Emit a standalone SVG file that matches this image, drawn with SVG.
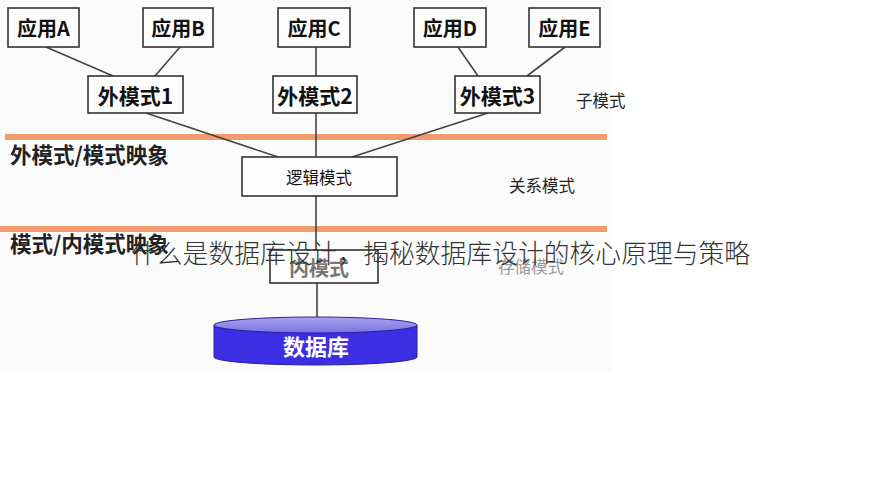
<svg xmlns="http://www.w3.org/2000/svg" width="879" height="490" viewBox="0 0 879 490">
<defs>
<style>
.box{fill:#fdfdfd;stroke:#333;stroke-width:1.6}
.bt{font-family:"Noto Sans CJK SC","Liberation Sans",sans-serif;font-weight:bold;fill:#111;text-anchor:middle;dominant-baseline:central}
.ln{stroke:#444;stroke-width:1.6;fill:none}
.band{stroke:#f29b6c;stroke-width:6}
.lbl{font-family:"Noto Sans CJK SC","Liberation Sans",sans-serif;fill:#222}
</style>
<linearGradient id="dbtop" x1="0" y1="0" x2="0" y2="1">
<stop offset="0" stop-color="#a8a4ee"/>
<stop offset="1" stop-color="#7a72e6"/>
</linearGradient>
</defs>
<rect x="0" y="0" width="879" height="490" fill="#ffffff"/>
<rect x="0" y="0" width="612" height="372" fill="#fbfbfb"/>

<g id="bands">
<line class="band" x1="5" y1="137" x2="607" y2="137"/>
<line class="band" x1="0" y1="229" x2="607" y2="229"/>
</g>

<g id="connectors">
<line class="ln" x1="46" y1="47" x2="113" y2="76"/>
<line class="ln" x1="180" y1="47" x2="155" y2="76"/>
<line class="ln" x1="316" y1="47" x2="316" y2="76"/>
<line class="ln" x1="458" y1="47" x2="478" y2="76"/>
<line class="ln" x1="565" y1="47" x2="527" y2="76"/>
<line class="ln" x1="146" y1="113" x2="278" y2="157"/>
<line class="ln" x1="316" y1="113" x2="316" y2="157"/>
<line class="ln" x1="488" y1="113" x2="352" y2="157"/>
<line class="ln" x1="316" y1="196" x2="316" y2="250"/>
<line class="ln" x1="317" y1="283" x2="317" y2="320"/>
</g>

<g id="appA"><rect class="box" x="8" y="8" width="71" height="39"/><text class="bt" x="43.5" y="27.5" font-size="20">应用A</text></g>
<g id="appB"><rect class="box" x="143" y="8" width="70" height="39"/><text class="bt" x="178" y="27.5" font-size="20">应用B</text></g>
<g id="appC"><rect class="box" x="278" y="8" width="72" height="39"/><text class="bt" x="314" y="27.5" font-size="20">应用C</text></g>
<g id="appD"><rect class="box" x="414" y="8" width="72" height="39"/><text class="bt" x="450" y="27.5" font-size="20">应用D</text></g>
<g id="appE"><rect class="box" x="529" y="8" width="71" height="39"/><text class="bt" x="564.5" y="27.5" font-size="20">应用E</text></g>

<g id="ext1"><rect class="box" x="88" y="76" width="95" height="37"/><text class="bt" x="135.5" y="95" font-size="21">外模式1</text></g>
<g id="ext2"><rect class="box" x="273" y="76" width="84" height="37"/><text class="bt" x="315" y="95" font-size="21">外模式2</text></g>
<g id="ext3"><rect class="box" x="455" y="76" width="85" height="37"/><text class="bt" x="497.5" y="95" font-size="21">外模式3</text></g>

<g id="logical"><rect class="box" x="242" y="157" width="155" height="39"/><text class="bt" x="319" y="177" font-size="16.5" style="font-weight:normal">逻辑模式</text></g>

<g id="internal"><rect class="box" x="270" y="250" width="108" height="33"/><text class="bt" x="319" y="267" font-size="20" style="fill:#777">内模式</text></g>

<g id="database">
<path d="M214,325 L214,357 A101.5,8 0 0 0 417,357 L417,325 Z" fill="#3b2ee4" stroke="#2a2090" stroke-width="1"/>
<ellipse cx="315.5" cy="325" rx="101.5" ry="8" fill="url(#dbtop)" stroke="#2a2090" stroke-width="1"/>
<text x="316" y="345" font-family="'Noto Sans CJK SC','Liberation Sans',sans-serif" font-weight="bold" font-size="22" fill="#ffffff" text-anchor="middle" dominant-baseline="central">数据库</text>
</g>

<g id="labels">
<text class="lbl" x="10" y="163" font-size="21.5" font-weight="bold">外模式/模式映象</text>
<text class="lbl" x="10" y="252" font-size="21.5" font-weight="bold">模式/内模式映象</text>
<text class="lbl" x="576" y="107" font-size="16.5">子模式</text>
<text class="lbl" x="509" y="192" font-size="16.5">关系模式</text>
<text class="lbl" x="498" y="273" font-size="16.5" style="fill:#999">存储模式</text>
</g>

<text x="131" y="263" font-family="'Noto Sans CJK SC','Liberation Sans',sans-serif" font-weight="300" font-size="25.8" fill="#333">什么是数据库设计，揭秘数据库设计的核心原理与策略</text>
</svg>
